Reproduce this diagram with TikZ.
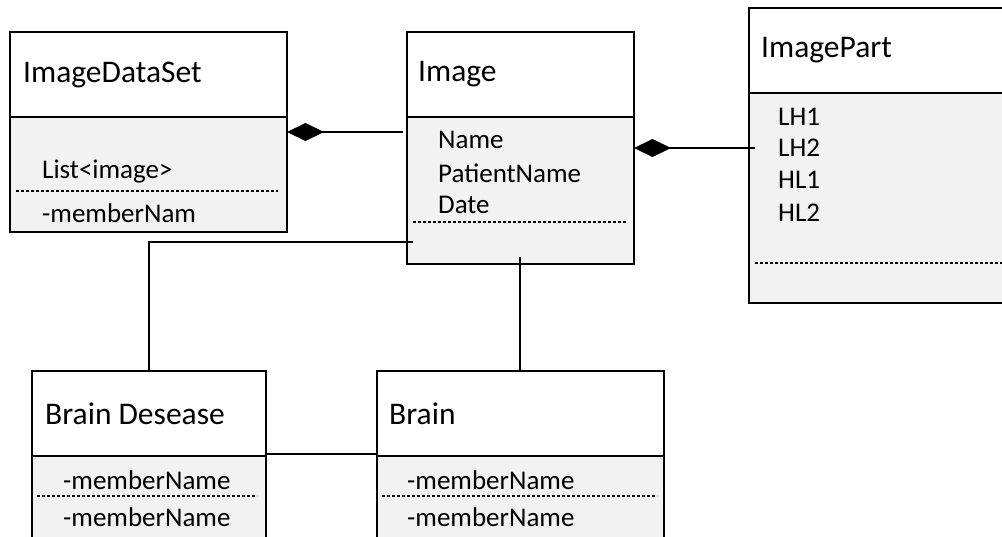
\documentclass[tikz,border=0pt]{standalone}
\usepackage{fontspec}
\setmainfont{Carlito}
\usetikzlibrary{arrows.meta, positioning}

\definecolor{boxgray}{HTML}{F2F2F2}

\begin{document}
\begin{tikzpicture}[
        x=1pt, y=-1pt,
        head/.style={rectangle, draw=black, fill=white, line width=1.5pt, anchor=north west, minimum height=85pt, inner sep=0pt, outer sep=0pt},
        body/.style={rectangle, draw=black, fill=boxgray, line width=1.5pt, inner sep=0pt, outer sep=0pt},
        classname/.style={inner sep=0pt, font=\fontsize{31.5}{37}\selectfont},
        attr/.style={inner sep=0pt, anchor=west, font=\fontsize{27}{32}\selectfont},
        divider/.style={dash pattern=on 3pt off 2pt, line width=1.2pt},
        link/.style={line width=1.5pt},
        comp/.style={link, -{Diamond[length=37pt, width=18pt]}}
    ]
        \clip (0,0) rectangle (1002,536);

        % Classes
        \node[head, minimum width=277pt] (dsethead) at (10,32) {};
        \node[body, minimum width=277pt, minimum height=115pt, below=0pt of dsethead] (dsetbody) {};
        \node[classname, right=13pt of dsethead.west] (dsetname) {ImageDataSet};

        \node[head, minimum width=227pt] (imghead) at (407,32) {};
        \node[body, minimum width=227pt, minimum height=147pt, below=0pt of imghead] (imgbody) {};
        \node[classname, right=11pt of imghead.west] (imgname) {Image};

        \node[head, minimum width=261pt] (iphead) at (749,8) {};
        \node[body, minimum width=261pt, minimum height=210pt, below=0pt of iphead] (ipbody) {};
        \node[classname, right=12pt of iphead.west] (ipname) {ImagePart};

        \node[head, minimum width=234pt] (bdhead) at (32,371) {};
        \node[body, minimum width=234pt, minimum height=100pt, below=0pt of bdhead] (bdbody) {};
        \node[classname, right=13pt of bdhead.west] (bdname) {Brain Desease};

        \node[head, minimum width=287pt] (brhead) at (377,371) {};
        \node[body, minimum width=287pt, minimum height=100pt, below=0pt of brhead] (brbody) {};
        \node[classname, right=12pt of brhead.west] (brname) {Brain};

        % Attributes
        \node[attr] (dsetlist) at (42,172) {List<image>};
        \node[attr] (dsetmember) at (42,213) {-memberNam};
        \draw[divider] (16,191) -- (278,191);

        \node[attr] (imgname1) at (438,140) {Name};
        \node[attr] (imgpatient) at (438,173) {PatientName};
        \node[attr] (imgdate) at (438,205) {Date};
        \draw[divider] (413,222) -- (627,222);

        \node[attr] (iplh1) at (778,117) {LH1};
        \node[attr] (iplh2) at (778,148) {LH2};
        \node[attr] (iphl1) at (778,180) {HL1};
        \node[attr] (iphl2) at (778,213) {HL2};
        \draw[divider] (755,263) -- (1002,263);

        \node[attr] (bdmember1) at (63,480) {-memberName};
        \node[attr] (bdmember2) at (63,517) {-memberName};
        \draw[divider] (37,496) -- (257,496);

        \node[attr] (brmember1) at (407,480) {-memberName};
        \node[attr] (brmember2) at (407,517) {-memberName};
        \draw[divider] (382,496) -- (657,496);

        % Connections
        \draw[comp] ([xshift=-4pt, yshift=-15pt]imgbody.north west) -- ([yshift=-15pt]dsetbody.north east);
        \draw[comp] ([xshift=6pt, yshift=-55pt]ipbody.north west) -- ([yshift=-31pt]imgbody.north east);
        \draw[link] ([xshift=6pt, yshift=22pt]imgbody.south west) -| (bdhead.north);
        \draw[link] ([xshift=-0.5pt, yshift=7pt]imgbody.south) -- ([xshift=-0.5pt]brhead.north);
        \draw[link] ([yshift=2pt]bdhead.south east) -- ([yshift=2pt]brhead.south west);
    \end{tikzpicture}
\end{document}
